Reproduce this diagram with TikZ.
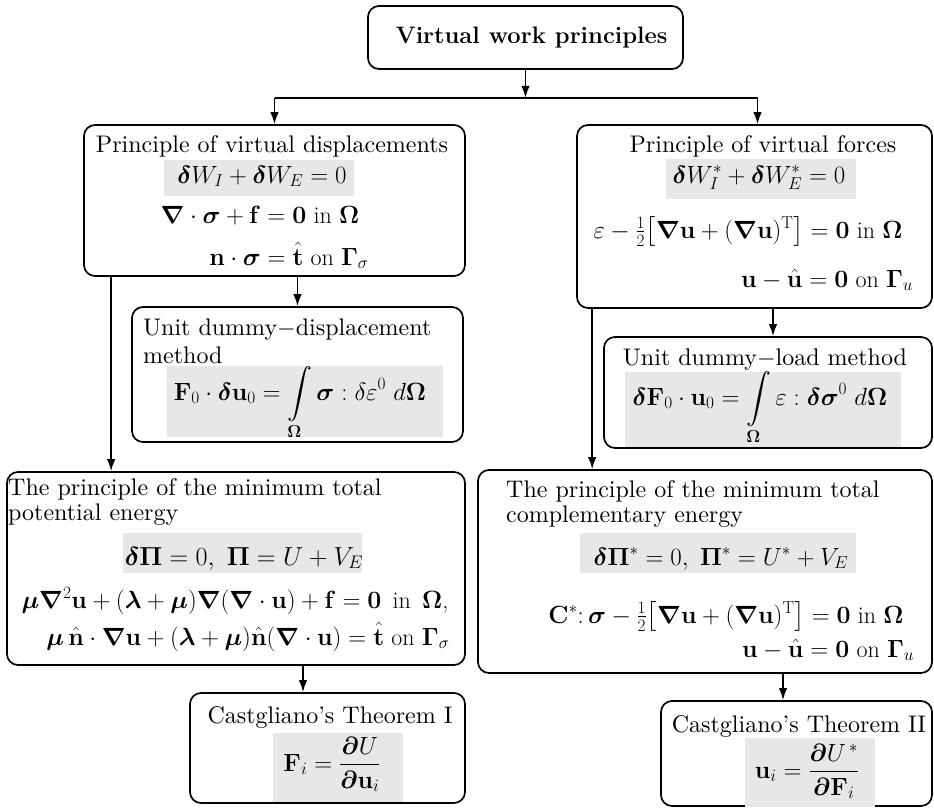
\documentclass[tikz,border=0pt]{standalone}
\usepackage{amsmath,bm,graphicx}
\usetikzlibrary{arrows.meta}
\definecolor{eqgray}{RGB}{230,231,232}
\newcommand{\sx}[1]{\scalebox{2.4}{\fontsize{10}{12}\selectfont #1}}
\begin{document}
\begin{tikzpicture}[x=1pt,y=-1pt,
  box/.style={draw, line width=1.7pt, rounded corners=11pt, inner sep=0},
  gbox/.style={fill=eqgray, inner sep=0},
  txt/.style={inner sep=0, anchor=base, font=\fontsize{24}{29}\selectfont},
  ltxt/.style={txt, anchor=base west},
  arr/.style={line width=1.7pt, -{Latex[length=12pt,width=8.5pt]}},
  ln/.style={line width=1.7pt}]
\useasboundingbox (0,0) rectangle (934,808);
% boxes
\node[box, minimum width=315pt, minimum height=63pt] (title) at (525.5,37.5) {};
\node[box, minimum width=381pt, minimum height=151pt] (pvd) at (274.5,200.5) {};
\node[box, minimum width=355pt, minimum height=183pt] (pvf) at (754.5,216.5) {};
\node[box, minimum width=331pt, minimum height=135pt] (udd) at (297.5,374.5) {};
\node[box, minimum width=328pt, minimum height=111pt] (udl) at (768,392.5) {};
\node[box, minimum width=458pt, minimum height=193pt] (mpe) at (236,568.5) {};
\node[box, minimum width=454pt, minimum height=203pt] (mce) at (705,571.5) {};
\node[box, minimum width=275pt, minimum height=110pt] (c1) at (327.5,748) {};
\node[box, minimum width=271pt, minimum height=105pt] (c2) at (796.5,753.5) {};
% gray equation backgrounds
\node[gbox, minimum width=190pt, minimum height=36pt] (g1) at (259,178) {};
\node[gbox, minimum width=190pt, minimum height=40pt] (g2) at (761,179) {};
\node[gbox, minimum width=276pt, minimum height=71pt] (g3) at (305,401.5) {};
\node[gbox, minimum width=276pt, minimum height=75pt] (g4) at (763,409.5) {};
\node[gbox, minimum width=239pt, minimum height=40pt] (g5) at (242.5,553) {};
\node[gbox, minimum width=276pt, minimum height=40pt] (g6) at (718,553) {};
\node[gbox, minimum width=130pt, minimum height=69pt] (g7) at (338,767.5) {};
\node[gbox, minimum width=130pt, minimum height=69pt] (g8) at (810,772.5) {};
% title
\node[inner sep=0, anchor=base, font=\fontsize{23.8}{28}\selectfont\bfseries] (tt) at (531.5,44) {Virtual work principles};
% principle of virtual displacements
\node[txt] (t1) at (272,152) {\sx{Principle of virtual displacements}};
\node[txt] (e1) at (262,183) {$\bm{\delta} W_I + \bm{\delta} W_E = 0$};
\node[txt] (e2) at (260,223) {$\bm{\nabla}\cdot\bm{\sigma} + \mathbf{f} = \mathbf{0}$ in $\bm{\Omega}$};
\node[txt] (e3) at (289,265) {$\mathbf{n}\cdot\bm{\sigma} = \hat{\mathbf{t}}$ on $\bm{\Gamma}_{\sigma}$};
% principle of virtual forces
\node[txt] (t2) at (763,152) {\sx{Principle of virtual forces}};
\node[txt] (e4) at (759,183) {$\bm{\delta} W_I^{*} + \bm{\delta} W_E^{*} = 0$};
\node[txt] (e5) at (748,238) {$\varepsilon - \tfrac12\bigl[\bm{\nabla}\mathbf{u} + (\bm{\nabla}\mathbf{u})^{\mathrm{T}}\bigr] = \mathbf{0}$ in $\bm{\Omega}$};
\node[txt] (e6) at (827,287) {$\mathbf{u} - \hat{\mathbf{u}} = \mathbf{0}$ on $\bm{\Gamma}_u$};
% unit dummy displacement
\node[ltxt] (t3) at (143,335) {\sx{Unit dummy$-$displacement}};
\node[ltxt] (t3b) at (143,363) {\sx{method}};
\node[txt] (e7) at (300,400) {$\displaystyle \mathbf{F}_0\cdot\bm{\delta}\mathbf{u}_0 = \int\limits_{\bm{\Omega}}\bm{\sigma} : \delta\varepsilon^0\ d\bm{\Omega}$};
% unit dummy load
\node[txt] (t4) at (765,365) {\sx{Unit dummy$-$load method}};
\node[txt] (e8) at (760,405) {$\displaystyle \bm{\delta}\mathbf{F}_0\cdot\mathbf{u}_0 = \int\limits_{\bm{\Omega}}\varepsilon : \bm{\delta\sigma}^0\ d\bm{\Omega}$};
% minimum total potential energy
\node[ltxt] (t5) at (8,495) {\sx{The principle of the minimum total}};
\node[ltxt] (t5b) at (8,520) {\sx{potential energy}};
\node[txt] (e9) at (244,565) {\scalebox{1.05}{$\bm{\delta\Pi} = 0,\ \bm{\Pi} = U + V_E$}};
\node[txt] (e10) at (235,608) {$\bm{\mu}\bm{\nabla}^2\mathbf{u} + (\bm{\lambda}+\bm{\mu})\bm{\nabla}(\bm{\nabla}\cdot\mathbf{u}) + \mathbf{f} = \mathbf{0}$\, in\, $\bm{\Omega}$,};
\node[txt] (e11) at (248,645) {$\bm{\mu}\,\hat{\mathbf{n}}\cdot\bm{\nabla}\mathbf{u} + (\bm{\lambda}+\bm{\mu})\hat{\mathbf{n}}(\bm{\nabla}\cdot\mathbf{u}) = \hat{\mathbf{t}}$ on $\bm{\Gamma}_{\sigma}$};
% minimum total complementary energy
\node[ltxt] (t6) at (506,497) {\sx{The principle of the minimum total}};
\node[ltxt] (t6b) at (506,522) {\sx{complementary energy}};
\node[txt] (e12) at (721,565) {$\bm{\delta\Pi}^{*} = 0,\ \bm{\Pi}^{*} = U^{*} + V_E$};
\node[txt] (e13) at (726,623) {${\mathbf{C}^{*}}{:}\,\bm{\sigma} - \tfrac12\bigl[\bm{\nabla}\mathbf{u} + (\bm{\nabla}\mathbf{u})^{\mathrm{T}}\bigr] = \mathbf{0}$ in $\bm{\Omega}$};
\node[txt] (e14) at (828,657) {$\mathbf{u} - \hat{\mathbf{u}} = \mathbf{0}$ on $\bm{\Gamma}_u$};
% Castigliano
\node[txt] (t7) at (330,723) {\sx{Castgliano's Theorem I}};
\node[txt] (e15) at (332,771) {$\mathbf{F}_i = \dfrac{\bm{\partial} U}{\bm{\partial}\mathbf{u}_i}$};
\node[txt] (t8) at (799,732) {\sx{Castgliano's Theorem II}};
\node[txt] (e16) at (807,778) {$\mathbf{u}_i = \dfrac{\bm{\partial} U^{\,*}}{\bm{\partial}\mathbf{F}_i}$};
% connectors
\coordinate (jn) at ([yshift=-28pt]title.south);
\coordinate (pvftop) at ([xshift=3pt]pvf.north);
\coordinate (jl) at (jn -| pvd.north);
\coordinate (jr) at (jn -| pvftop);
\draw[arr] (title.south) -- (jn);
\draw[ln] (jl) -- (jr);
\draw[arr] (jl) -- (pvd.north);
\draw[arr] (jr) -- (pvftop);
\draw[arr] (pvd.south -| udd.north) -- (udd.north);
\coordinate (pvdl) at ([xshift=28pt]pvd.south west);
\draw[arr] (pvdl) -- (pvdl |- mpe.north);
\coordinate (pvfl) at ([xshift=16pt]pvf.south west);
\draw[arr] (pvfl) -- (pvfl |- mce.north);
\coordinate (udltop) at ([xshift=5pt]udl.north);
\draw[arr] (udltop |- pvf.south) -- (udltop);
\coordinate (c1top) at ([xshift=-24.5pt]c1.north);
\draw[arr] (c1top |- mpe.south) -- (c1top);
\coordinate (c2top) at ([xshift=-13.5pt]c2.north);
\draw[arr] (c2top |- mce.south) -- (c2top);
\end{tikzpicture}
\end{document}
